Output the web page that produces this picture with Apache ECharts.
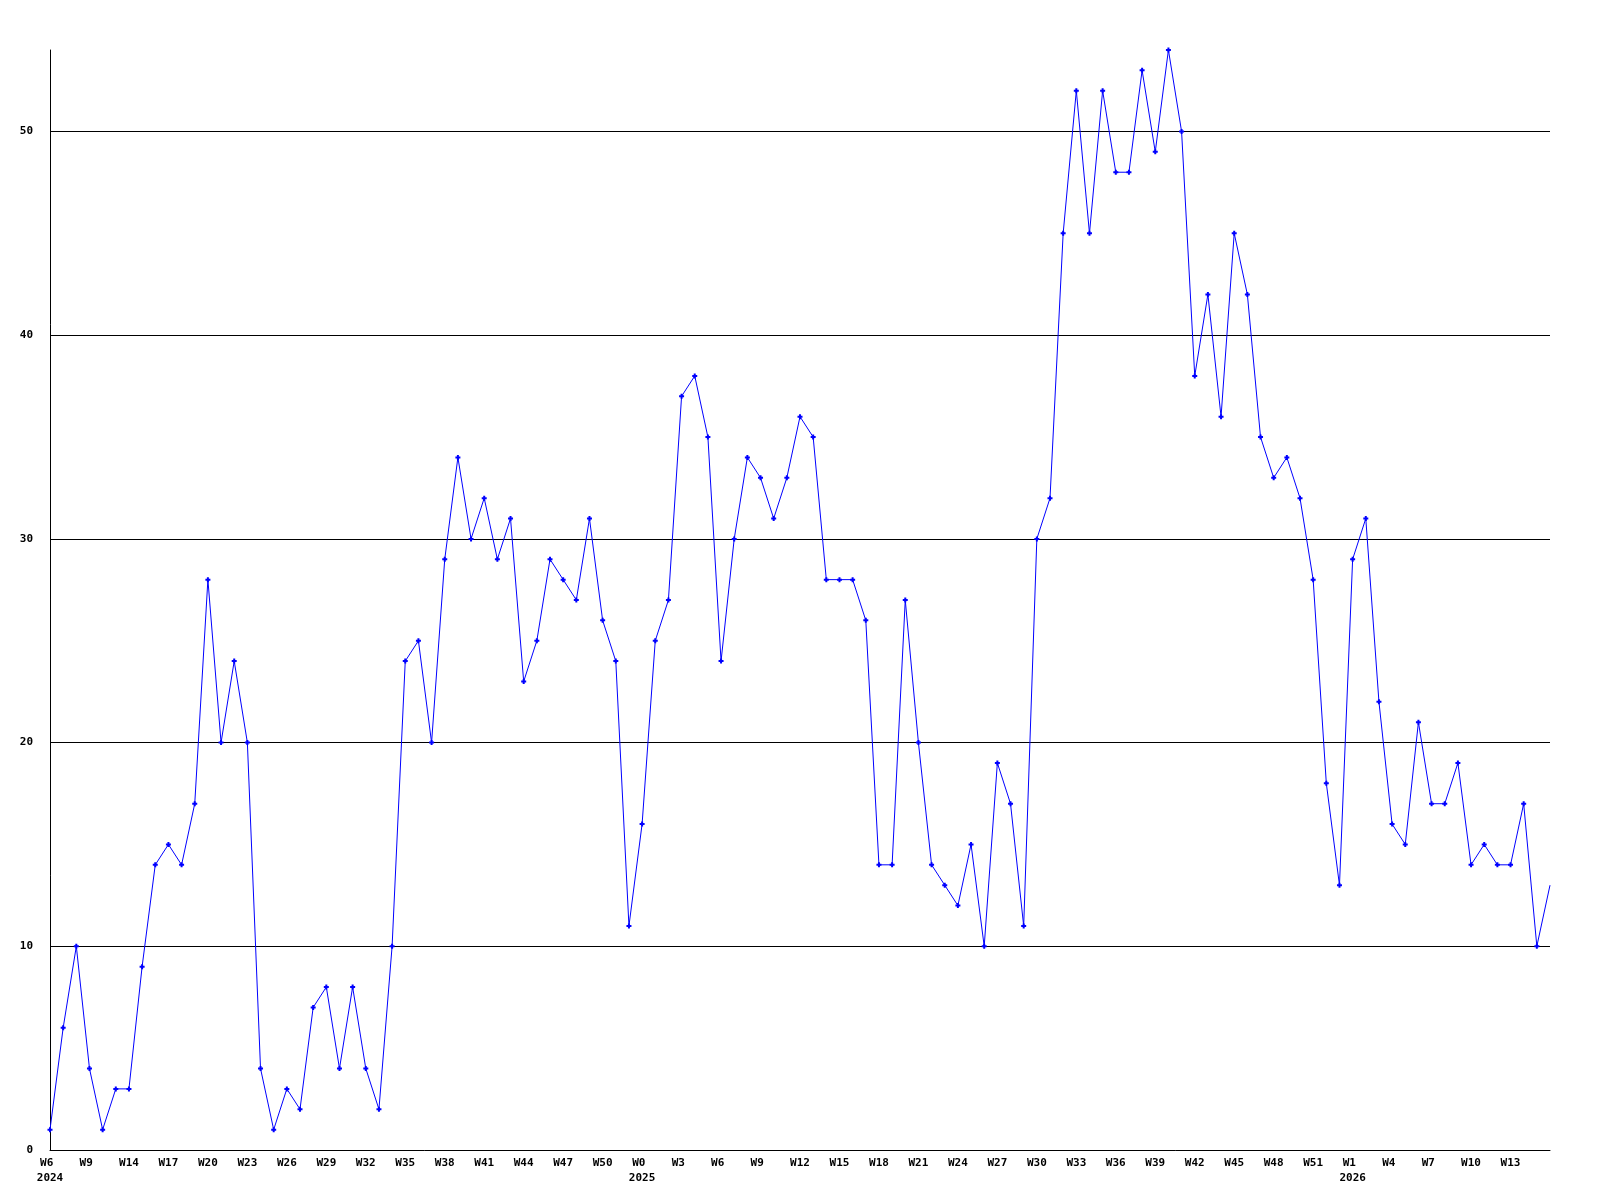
<!DOCTYPE html>
<html>
<head>
<meta charset="utf-8">
<script src="https://cdn.jsdelivr.net/npm/echarts@6/dist/echarts.min.js"></script>
<style>html,body{margin:0;padding:0;background:#fff}#c{width:1600px;height:1200px}</style>
</head>
<body>
<div id="c"></div>
<script>
// Tick labels shown on the x axis (one every 3 data points)
const weekLabels = ['W6','W9','W14','W17','W20','W23','W26','W29','W32','W35','W38','W41','W44','W47','W50',
  'W0','W3','W6','W9','W12','W15','W18','W21','W24','W27','W30','W33','W36','W39','W42','W45','W48','W51',
  'W1','W4','W7','W10','W13'];
// Year shown under certain tick labels (index into weekLabels)
const yearLabels = {0:'2024', 15:'2025', 33:'2026'};
// Weekly values
const values = [1,6,10,4,1,3,3,9,14,15,14,17,28,20,24,20,4,1,3,2,7,8,4,8,4,2,10,24,25,20,
  29,34,30,32,29,31,23,25,29,28,27,31,26,24,11,16,25,27,37,38,35,24,30,34,33,31,33,36,35,28,
  28,28,26,14,14,27,20,14,13,12,15,10,19,17,11,30,32,45,52,45,52,48,48,53,49,54,50,38,42,36,
  45,42,35,33,34,32,28,18,13,29,31,22,16,15,21,17,17,19,14,15,14,14,17,10,13];
const yTicks = [0,10,20,30,40,50];
const yMax = 54;

const categories = values.map((v,i) => {
  if (i % 3 !== 0) return '';
  const k = i/3;
  if (k >= weekLabels.length) return '';
  const w = weekLabels[k].padEnd(3, '\u00a0');
  return yearLabels[k] ? w + '\n' + yearLabels[k] : w;
});

const chart = echarts.init(document.getElementById('c'), null, {renderer:'canvas'});
const font = '"DejaVu Sans Mono", "Liberation Mono", monospace';
chart.setOption({
  animation: false,
  backgroundColor: '#ffffff',
  grid: {left: 50, right: 50, top: 50, bottom: 50, containLabel: false},
  xAxis: {
    type: 'category',
    data: categories,
    boundaryGap: false,
    axisLine: {show: true, lineStyle: {color: '#000', width: 1}},
    axisTick: {show: false},
    splitLine: {show: false},
    axisLabel: {
      interval: 2,
      color: '#000',
      fontFamily: font,
      fontWeight: 'bold',
      fontSize: 11,
      lineHeight: 15,
      margin: 6
    }
  },
  yAxis: {
    type: 'value',
    min: 0,
    max: yMax,
    interval: 10,
    axisLine: {show: true, lineStyle: {color: '#000', width: 1}},
    axisTick: {show: false},
    splitLine: {show: true, showMaxLine: false, showMinLine: false, lineStyle: {color: '#000', width: 1}},
    axisLabel: {
      showMaxLabel: false,
      color: '#000',
      fontFamily: font,
      fontWeight: 'bold',
      fontSize: 11,
      margin: 17,
      formatter: v => (yTicks.indexOf(v) >= 0 ? String(v) : '')
    }
  },
  series: [{
    type: 'line',
    data: values.map((v,i) => i === values.length - 1 ? {value: v, symbol: 'none'} : v),
    symbol: 'path://M1.5,0H3.5V1.5H5V3.5H3.5V5H1.5V3.5H0V1.5H1.5Z',
    symbolSize: 5,
    showAllSymbol: true,
    lineStyle: {color: '#0000ff', width: 1},
    itemStyle: {color: '#0000ff'},
    z: 5
  }]
});
</script>
</body>
</html>
